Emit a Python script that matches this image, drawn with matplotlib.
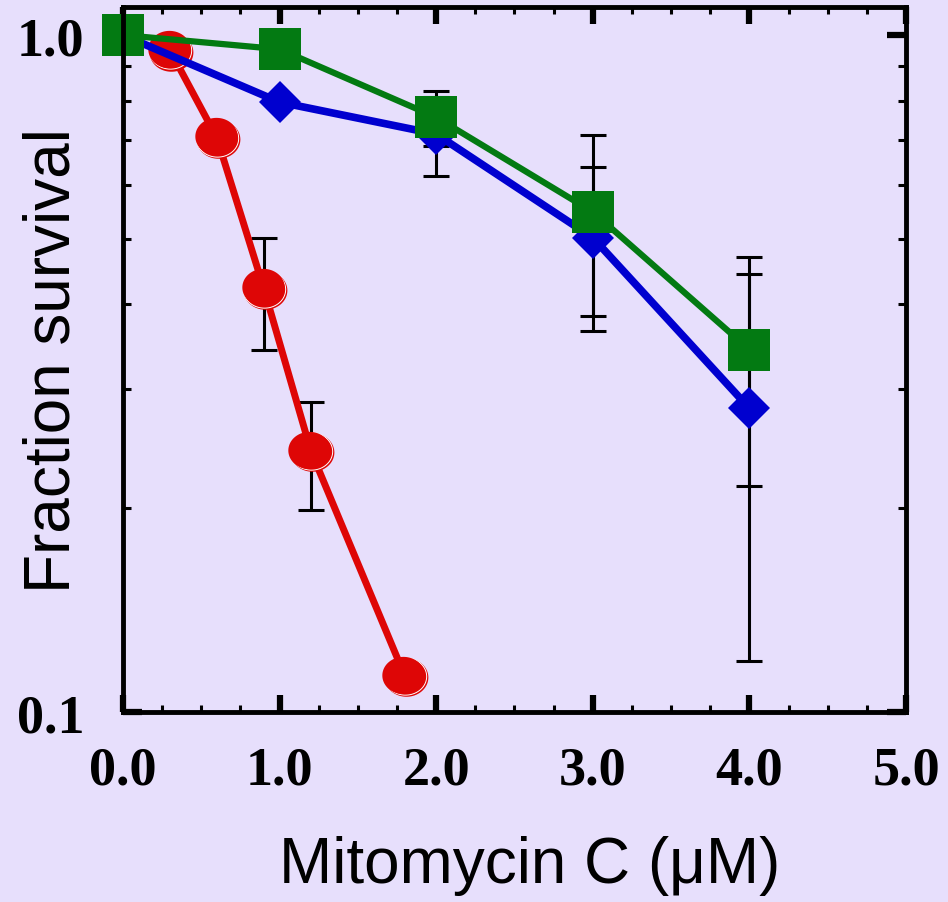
import numpy as np
import matplotlib
matplotlib.use("Agg")
import matplotlib.pyplot as plt
from matplotlib.path import Path
from matplotlib.ticker import FixedLocator, NullFormatter, FixedFormatter
import matplotlib.transforms as mtransforms

# ---- data ----
red_x = [0.3, 0.6, 0.9, 1.2, 1.8]
red_y = [0.950, 0.705, 0.422, 0.243, 0.113]
red_err = [0.0, 0.0, 0.080, 0.044, 0.0]

blue_x = [0.0, 1.0, 2.0, 3.0, 4.0]
blue_y = [1.0, 0.796, 0.714, 0.502, 0.281]
blue_err = [0.0, 0.0, 0.095, 0.136, 0.162]

green_x = [0.0, 1.0, 2.0, 3.0, 4.0]
green_y = [1.0, 0.953, 0.756, 0.548, 0.343]
green_err = [0.0, 0.0, 0.071, 0.164, 0.127]

xticks = [0, 1, 2, 3, 4, 5]
xticklabels = ["0.0", "1.0", "2.0", "3.0", "4.0", "5.0"]
yticks = [0.1, 1.0]
yticklabels = ["0.1", "1.0"]

BG = "#E7DFFC"
RED = "#DE0606"
BLUE = "#0000CF"
GREEN = "#037A12"

fig = plt.figure(figsize=(9.48, 9.03), dpi=100, facecolor=BG)
ax = fig.add_axes([0.1297, 0.2104, 0.9557 - 0.1297, 0.9911 - 0.2104])
ax.set_facecolor(BG)
ax.set_yscale("log")
ax.set_xlim(0, 5)
ax.set_ylim(0.1, 1.1)

# error bars (beneath markers)
ebkw = dict(fmt="none", ecolor="black", elinewidth=2.2, capsize=9.5, capthick=2.2, zorder=2, clip_on=False)
ax.errorbar(red_x, red_y, yerr=red_err, **ebkw)
ax.errorbar(blue_x, blue_y, yerr=blue_err, **ebkw)
ax.errorbar(green_x, green_y, yerr=green_err, **ebkw)

# ellipse marker for circles
t = np.linspace(0, 2 * np.pi, 80)
ell = Path(np.column_stack([np.cos(t), 0.88 * np.sin(t)]), closed=True)

# red series
ax.plot(red_x, red_y, color=RED, lw=5.0, zorder=3, clip_on=False)
off = mtransforms.ScaledTranslation(1.0 / 72, -1.0 / 72, fig.dpi_scale_trans)
ax.plot(red_x, red_y, ls="none", marker=ell, ms=31.5, mfc=RED, mec=RED, mew=0,
        zorder=4, clip_on=False, transform=ax.transData + off)
ax.plot(red_x, red_y, ls="none", marker=ell, ms=30.5, mfc=RED, mec="white", mew=0.7,
        zorder=4.1, clip_on=False)
off2 = mtransforms.ScaledTranslation(-1.0 / 72, 1.0 / 72, fig.dpi_scale_trans)
ax.plot(red_x, red_y, ls="none", marker=ell, ms=30.5, mfc=RED, mec=RED, mew=0,
        zorder=4.2, clip_on=False, transform=ax.transData + off2)

# blue series
ax.plot(blue_x, blue_y, color=BLUE, lw=5.5, zorder=5, clip_on=False)
ax.plot(blue_x, blue_y, ls="none", marker="D", ms=21, mfc=BLUE, mec=BLUE, mew=0,
        zorder=6, clip_on=False)

# green series
ax.plot(green_x, green_y, color=GREEN, lw=4.5, zorder=7, clip_on=False)
ax.plot(green_x, green_y, ls="none", marker="s", ms=30, mfc=GREEN, mec=GREEN, mew=0,
        zorder=8, clip_on=False)

# spines
for s in ax.spines.values():
    s.set_linewidth(3.5)
    s.set_color("black")
    s.set_zorder(10)

# ticks
ax.xaxis.set_major_locator(FixedLocator(xticks))
ax.xaxis.set_major_formatter(FixedFormatter(xticklabels))
ax.xaxis.set_minor_locator(FixedLocator(np.arange(0, 5.01, 0.25)))
ax.yaxis.set_major_locator(FixedLocator(yticks))
ax.yaxis.set_major_formatter(FixedFormatter(yticklabels))
ax.yaxis.set_minor_locator(FixedLocator([0.2, 0.3, 0.4, 0.5, 0.6, 0.7, 0.8, 0.9]))
ax.yaxis.set_minor_formatter(NullFormatter())

ax.tick_params(which="major", direction="in", length=12, width=4.5, top=True, right=True,
               color="black", pad=24)
ax.tick_params(which="minor", direction="in", length=5, width=2.2, top=True, right=True,
               color="black")
ax.tick_params(axis="y", which="minor", length=6)
ax.tick_params(axis="y", which="major", length=14, pad=28)

for lab in ax.get_xticklabels() + ax.get_yticklabels():
    lab.set_fontfamily("Liberation Serif")
    lab.set_fontweight("bold")
    lab.set_fontsize(39)

ax.set_xlabel("Mitomycin C (μM)", family="Liberation Sans", fontsize=46)
ax.set_ylabel("Fraction survival", family="Liberation Sans", fontsize=46)
ax.xaxis.set_label_coords(0.52, -0.174)
ax.yaxis.set_label_coords(-0.052, 0.5)

fig.savefig("out.png", dpi=100, facecolor=BG)
